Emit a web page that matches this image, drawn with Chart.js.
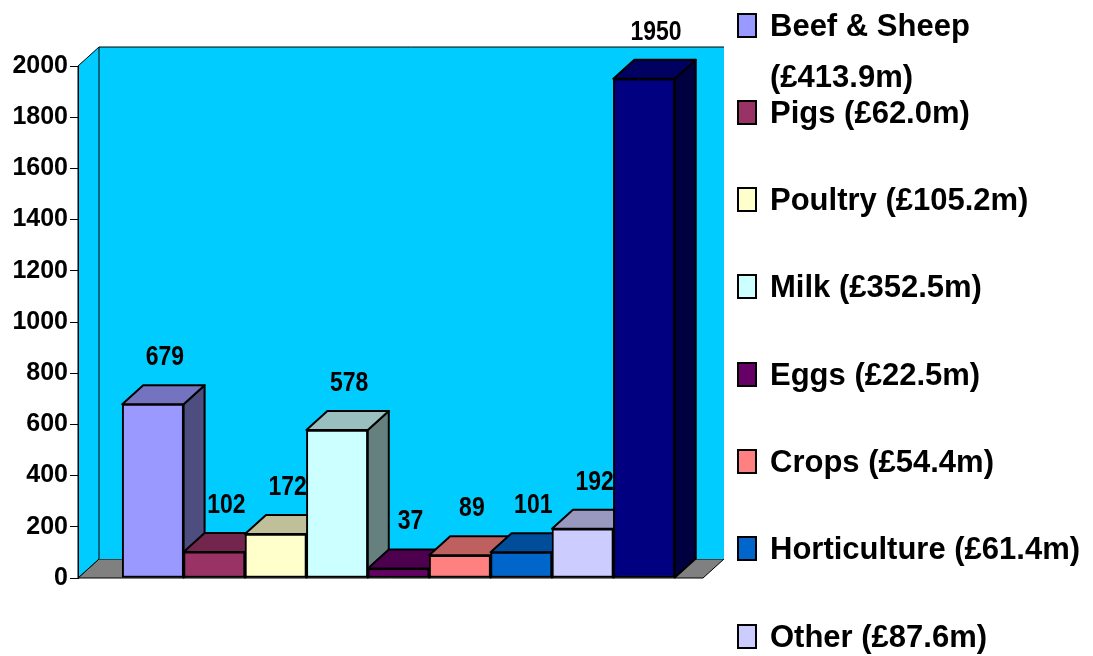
<!DOCTYPE html>
<html>
<head>
<meta charset="utf-8">
<script src="https://cdn.jsdelivr.net/npm/chart.js@4.4.1/dist/chart.umd.min.js"></script>
<style>
  html, body { margin: 0; padding: 0; background: #fff; overflow: hidden; }
  #wrap { position: relative; width: 1093px; height: 656px; }
  #legend { position: absolute; left: 737px; top: 0; width: 356px; font: bold 31px "Liberation Sans", Arial, sans-serif; color: #000; }
  .item { position: absolute; left: 0; display: flex; align-items: flex-start; }
  .box { width: 16px; height: 21px; border: 2px solid #000; margin-top: 13px; margin-right: 13px; flex: none; }
  .text { line-height: 51px; width: 323px; white-space: normal; }
</style>
</head>
<body>
<div id="wrap">
  <canvas id="chart" width="1093" height="656"></canvas>
  <div id="legend"></div>
</div>
<script>
const categories = ['Beef & Sheep', 'Pigs', 'Poultry', 'Milk', 'Eggs', 'Crops', 'Horticulture', 'Other', 'Total']
const values = [679, 102, 172, 578, 37, 89, 101, 192, 1950]
const legendAmounts = ['£413.9m', '£62.0m', '£105.2m', '£352.5m', '£22.5m', '£54.4m', '£61.4m', '£87.6m']
const colours = ['#9999FF', '#993366', '#FFFFCC', '#CCFFFF', '#660066', '#FF8080', '#0066CC', '#CCCCFF', '#000080']

// depth of the fake 3d, in pixels
const DX = 21
const DY = 19

function shade(hex, f) {
    const n = parseInt(hex.slice(1), 16)
    const r = Math.round(((n >> 16) & 255) * f)
    const g = Math.round(((n >> 8) & 255) * f)
    const b = Math.round((n & 255) * f)
    return 'rgb(' + r + ',' + g + ',' + b + ')'
}

function poly(ctx, pts) {
    ctx.beginPath()
    ctx.moveTo(pts[0][0], pts[0][1])
    for (let i = 1; i < pts.length; i++) ctx.lineTo(pts[i][0], pts[i][1])
    ctx.closePath()
}

const wallPlugin = {
    id: 'walls',
    beforeDraw(chart) {
        const ctx = chart.ctx
        const a = chart.chartArea
        ctx.save()
        ctx.lineWidth = 1
        ctx.strokeStyle = '#000'
        // floor
        ctx.fillStyle = '#808080'
        poly(ctx, [[a.left, a.bottom], [a.left + DX, a.bottom - DY], [a.right + DX, a.bottom - DY], [a.right, a.bottom]])
        ctx.fill()
        ctx.stroke()
        // back wall
        ctx.fillStyle = '#00CCFF'
        ctx.fillRect(a.left + DX, a.top - DY, a.right - a.left, a.bottom - a.top)
        // left wall
        poly(ctx, [[a.left, a.top], [a.left + DX, a.top - DY], [a.left + DX, a.bottom - DY], [a.left, a.bottom]])
        ctx.fill()
        ctx.stroke()
        ctx.beginPath()
        ctx.moveTo(a.left + DX, a.top - DY)
        ctx.lineTo(a.right + DX, a.top - DY)
        ctx.stroke()
        ctx.restore()
    }
}

const boxPlugin = {
    id: 'boxes',
    beforeDatasetsDraw(chart) {
        const ctx = chart.ctx
        const meta = chart.getDatasetMeta(0)
        ctx.save()
        ctx.lineWidth = 2
        ctx.lineJoin = 'round'
        ctx.strokeStyle = '#000'
        meta.data.forEach((bar, i) => {
            const p = bar.getProps(['x', 'y', 'base', 'width'], true)
            const l = p.x - p.width / 2
            const r = p.x + p.width / 2
            ctx.fillStyle = shade(colours[i], 0.5)
            poly(ctx, [[r, p.y], [r + DX, p.y - DY], [r + DX, p.base - DY], [r, p.base]])
            ctx.fill()
            ctx.stroke()
            ctx.fillStyle = shade(colours[i], 0.75)
            poly(ctx, [[l, p.y], [l + DX, p.y - DY], [r + DX, p.y - DY], [r, p.y]])
            ctx.fill()
            ctx.stroke()
        })
        ctx.restore()
    },
    afterDatasetsDraw(chart) {
        const ctx = chart.ctx
        const meta = chart.getDatasetMeta(0)
        ctx.save()
        ctx.font = 'bold 28px "Liberation Sans", Arial, sans-serif'
        ctx.textAlign = 'center'
        ctx.textBaseline = 'middle'
        ctx.fillStyle = '#000'
        meta.data.forEach((bar, i) => {
            ctx.save()
            ctx.translate(bar.x + 12, bar.y - DY - 28)
            ctx.scale(0.82, 1)
            ctx.fillText(String(values[i]), 0, 0)
            ctx.restore()
        })
        ctx.restore()
    }
}

const canvas = document.getElementById('chart')
const myChart = new Chart(canvas.getContext('2d'), {
    type: 'bar',
    data: {
        labels: categories,
        datasets: [{
            data: values.map((v, i) => ({ x: i, y: v })),
            backgroundColor: colours,
            borderColor: '#000',
            borderWidth: 2,
            borderSkipped: false,
            barPercentage: 1,
            categoryPercentage: 1,
            barThickness: 'flex'
        }]
    },
    options: {
        responsive: false,
        animation: false,
        devicePixelRatio: 1,
        layout: { padding: { left: 0, top: 66, right: 390, bottom: 78 } },
        plugins: {
            legend: { display: false },
            tooltip: { enabled: false }
        },
        scales: {
            x: {
                type: 'linear',
                display: false,
                offset: false,
                min: -1.22,
                max: 8.96,
                ticks: { stepSize: 1, includeBounds: false }
            },
            y: {
                min: 0,
                max: 2000,
                ticks: {
                    stepSize: 200,
                    color: '#000',
                    padding: 2,
                    font: { family: '"Liberation Sans", Arial, sans-serif', size: 25, weight: 'bold' },
                    callback: v => String(v)
                },
                grid: { drawOnChartArea: false, tickLength: 8, color: '#000' },
                border: { color: '#000', width: 1 },
                afterFit(scale) { scale.width = 78 }
            }
        }
    },
    plugins: [wallPlugin, boxPlugin]
})

// legend, one entry per priced series
const legend = document.getElementById('legend')
legendAmounts.forEach((amt, i) => {
    const item = document.createElement('div')
    item.className = 'item'
    item.style.top = (-0.5 + i * 87.3) + 'px'
    const box = document.createElement('div')
    box.className = 'box'
    box.style.background = colours[i]
    const text = document.createElement('div')
    text.className = 'text'
    text.textContent = categories[i] + ' (' + amt + ')'
    item.appendChild(box)
    item.appendChild(text)
    legend.appendChild(item)
})
</script>
</body>
</html>
